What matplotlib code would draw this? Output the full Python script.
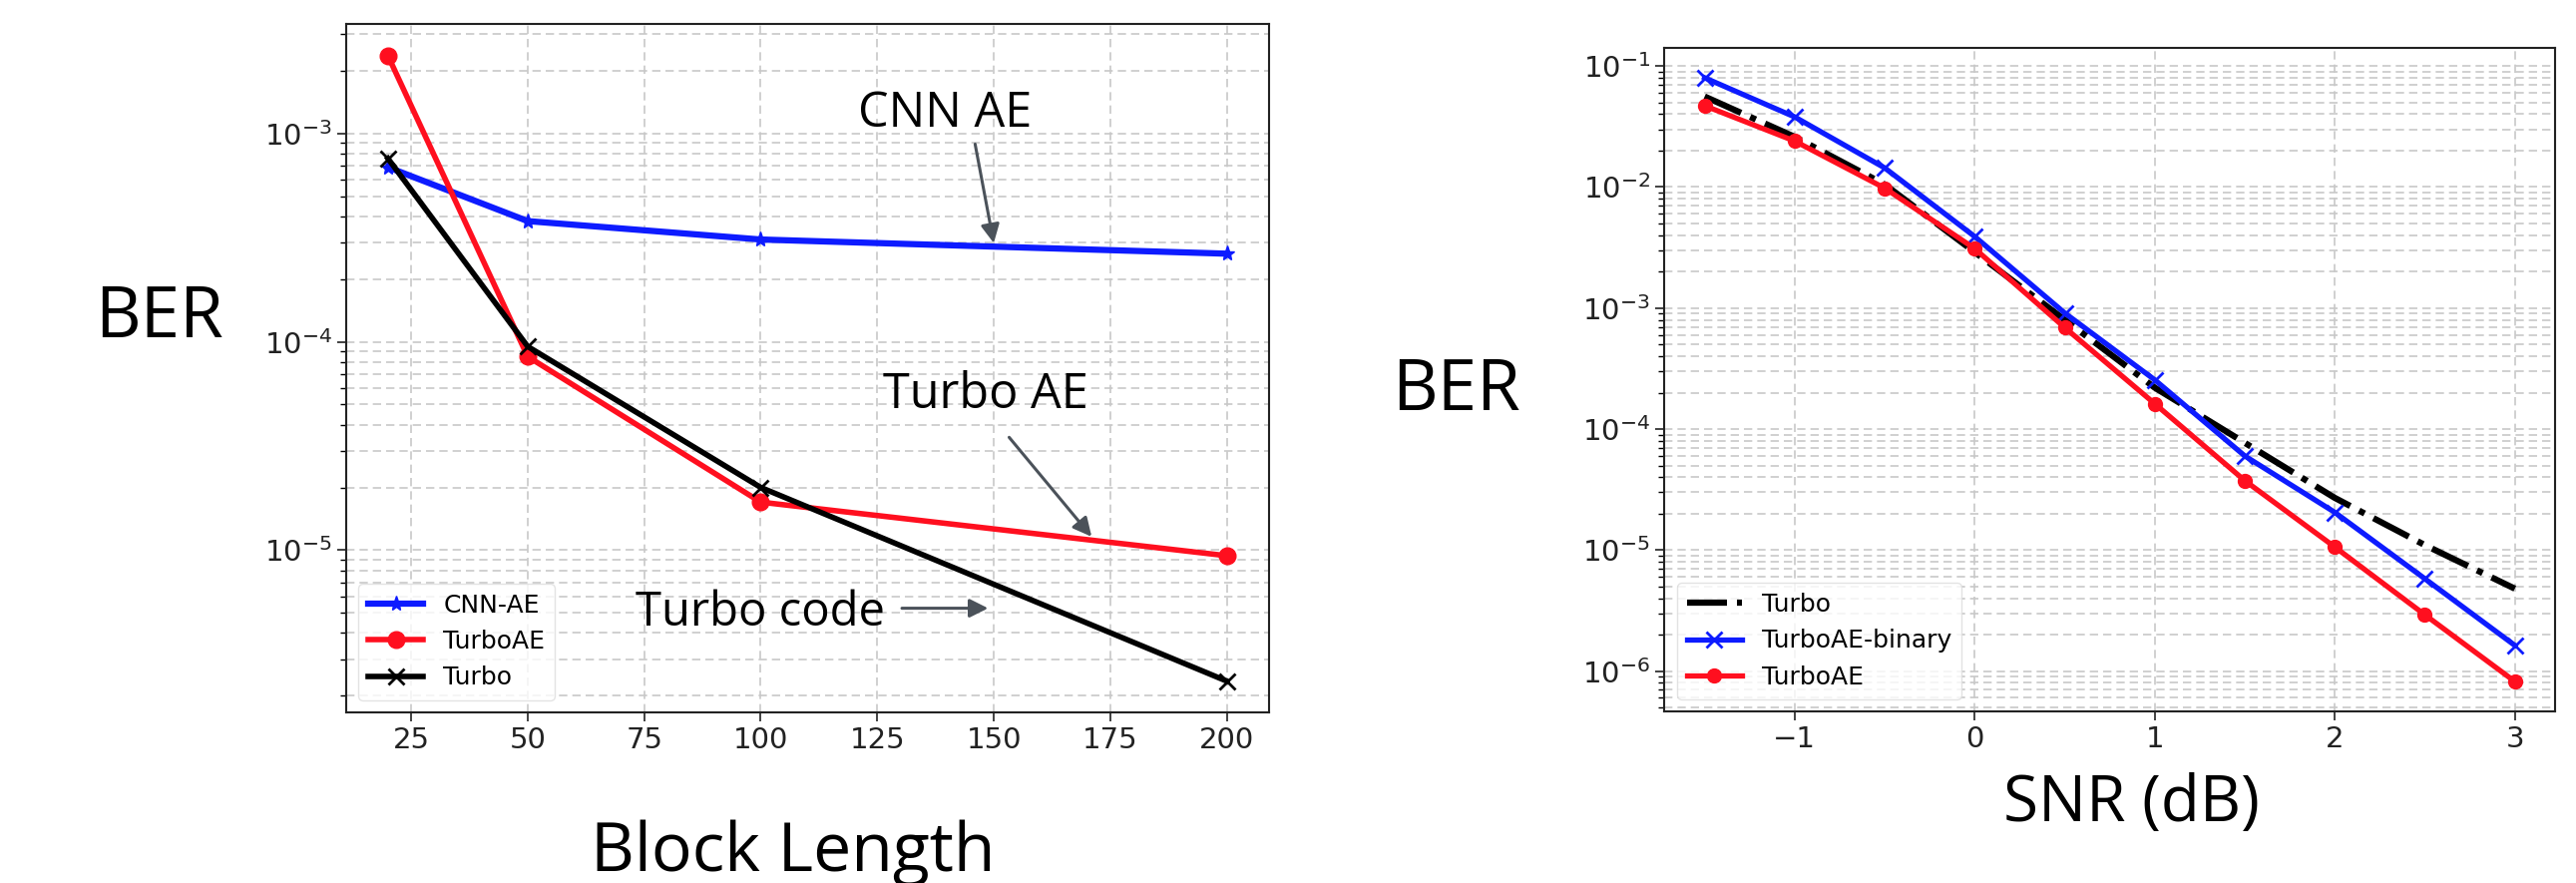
import matplotlib
matplotlib.use("Agg")
import matplotlib.pyplot as plt
from matplotlib import font_manager

# BER vs block length
block_len = [20, 50, 100, 200]
ber_cnn_ae = [6.9e-4, 3.8e-4, 3.1e-4, 2.65e-4]
ber_turboae_bl = [2.37e-3, 8.5e-5, 1.7e-5, 9.4e-6]
ber_turbo_bl = [7.6e-4, 9.5e-5, 2.0e-5, 2.35e-6]

# BER vs SNR
snr_db = [-1.5, -1.0, -0.5, 0.0, 0.5, 1.0, 1.5, 2.0, 2.5, 3.0]
ber_turbo_snr = [5.6e-2, 2.6e-2, 1.05e-2, 2.9e-3, 8.0e-4, 2.2e-4, 7.7e-5, 2.7e-5, 1.1e-5, 4.8e-6]
ber_turboae_bin = [8.0e-2, 3.8e-2, 1.44e-2, 3.9e-3, 9.1e-4, 2.55e-4, 6.0e-5, 2.05e-5, 5.8e-6, 1.63e-6]
ber_turboae_snr = [4.7e-2, 2.4e-2, 9.8e-3, 3.1e-3, 6.9e-4, 1.62e-4, 3.75e-5, 1.06e-5, 2.92e-6, 8.2e-7]

names = {f.name for f in font_manager.fontManager.ttflist}
big_font = "Liberation Sans Narrow" if "Liberation Sans Narrow" in names else "Open Sans"

W, H = 2582, 885
fig = plt.figure(figsize=(W / 100, H / 100), dpi=100)
fig.patch.set_facecolor("white")

BLUE = "#0d1bff"
RED = "#ff0f1f"
ARROW = "#4b525a"


def style_axes(ax):
    ax.set_yscale("log")
    ax.grid(True, which="both", ls="--", color="#c8c8c8", lw=1.2, dashes=(5, 3))
    ax.tick_params(which="major", length=6.5, width=1.2, labelsize=21, colors="#222222")
    ax.tick_params(which="minor", length=4.5, width=1.0)
    ax.tick_params(axis="x", which="minor", bottom=False)
    for s in ax.spines.values():
        s.set_color("#222222")
        s.set_linewidth(1.5)


# left panel
ax1 = fig.add_axes([346.7 / W, 1 - 714 / H, (1271.7 - 346.7) / W, (714 - 24.3) / H])
ax1.plot(block_len, ber_cnn_ae, color=BLUE, lw=4.5, marker="*", ms=11, label="CNN-AE")
ax1.plot(block_len, ber_turboae_bl, color=RED, lw=4.0, marker="o", ms=12, label="TurboAE")
ax1.plot(block_len, ber_turbo_bl, color="black", lw=4.0, marker="x", ms=12, mew=2, label="Turbo")
style_axes(ax1)
ax1.set_xticks([25, 50, 75, 100, 125, 150, 175, 200])
ax1.legend(loc="lower left", fontsize=18, handlelength=2.2, framealpha=0.8, edgecolor="#dddddd")

arrow = dict(arrowstyle="-|>", color=ARROW, lw=2.2, mutation_scale=28, shrinkA=0, shrinkB=0)
ax1.annotate("", xy=(150, 2.98e-4), xytext=(146, 8.9e-4), arrowprops=arrow)
ax1.annotate("", xy=(171, 1.16e-5), xytext=(153.3, 3.48e-5), arrowprops=arrow)
ax1.annotate("", xy=(148.8, 5.26e-6), xytext=(130.3, 5.26e-6), arrowprops=arrow)

# right panel
ax2 = fig.add_axes([1668 / W, 1 - 713.3 / H, (2561.3 - 1668) / W, (713.3 - 47.7) / H])
ax2.plot(snr_db, ber_turbo_snr, color="black", lw=4.5, ls="-.", label="Turbo")
ax2.plot(snr_db, ber_turboae_bin, color=BLUE, lw=3.8, marker="x", ms=11, mew=2, label="TurboAE-binary")
ax2.plot(snr_db, ber_turboae_snr, color=RED, lw=3.8, marker="o", ms=10, label="TurboAE")
style_axes(ax2)
ax2.set_xticks([-1, 0, 1, 2, 3])
ax2.legend(loc="lower left", fontsize=18, handlelength=2.2, framealpha=0.8, edgecolor="#dddddd")


def label(x, y, s, size):
    fig.text(x / W, 1 - y / H, s, fontsize=size, family=[big_font, "DejaVu Sans"],
             ha="center", va="baseline", color="black")


label(159, 338, "BER", 51)
label(1460, 411, "BER", 51)
label(795, 873, "Block Length", 49)
label(2136, 823, "SNR (dB)", 46)
label(947, 127, "CNN AE", 35)
label(988, 409, "Turbo AE", 35)
label(762, 627, "Turbo code", 34)

fig.savefig("out.png", dpi=100, facecolor="white")
